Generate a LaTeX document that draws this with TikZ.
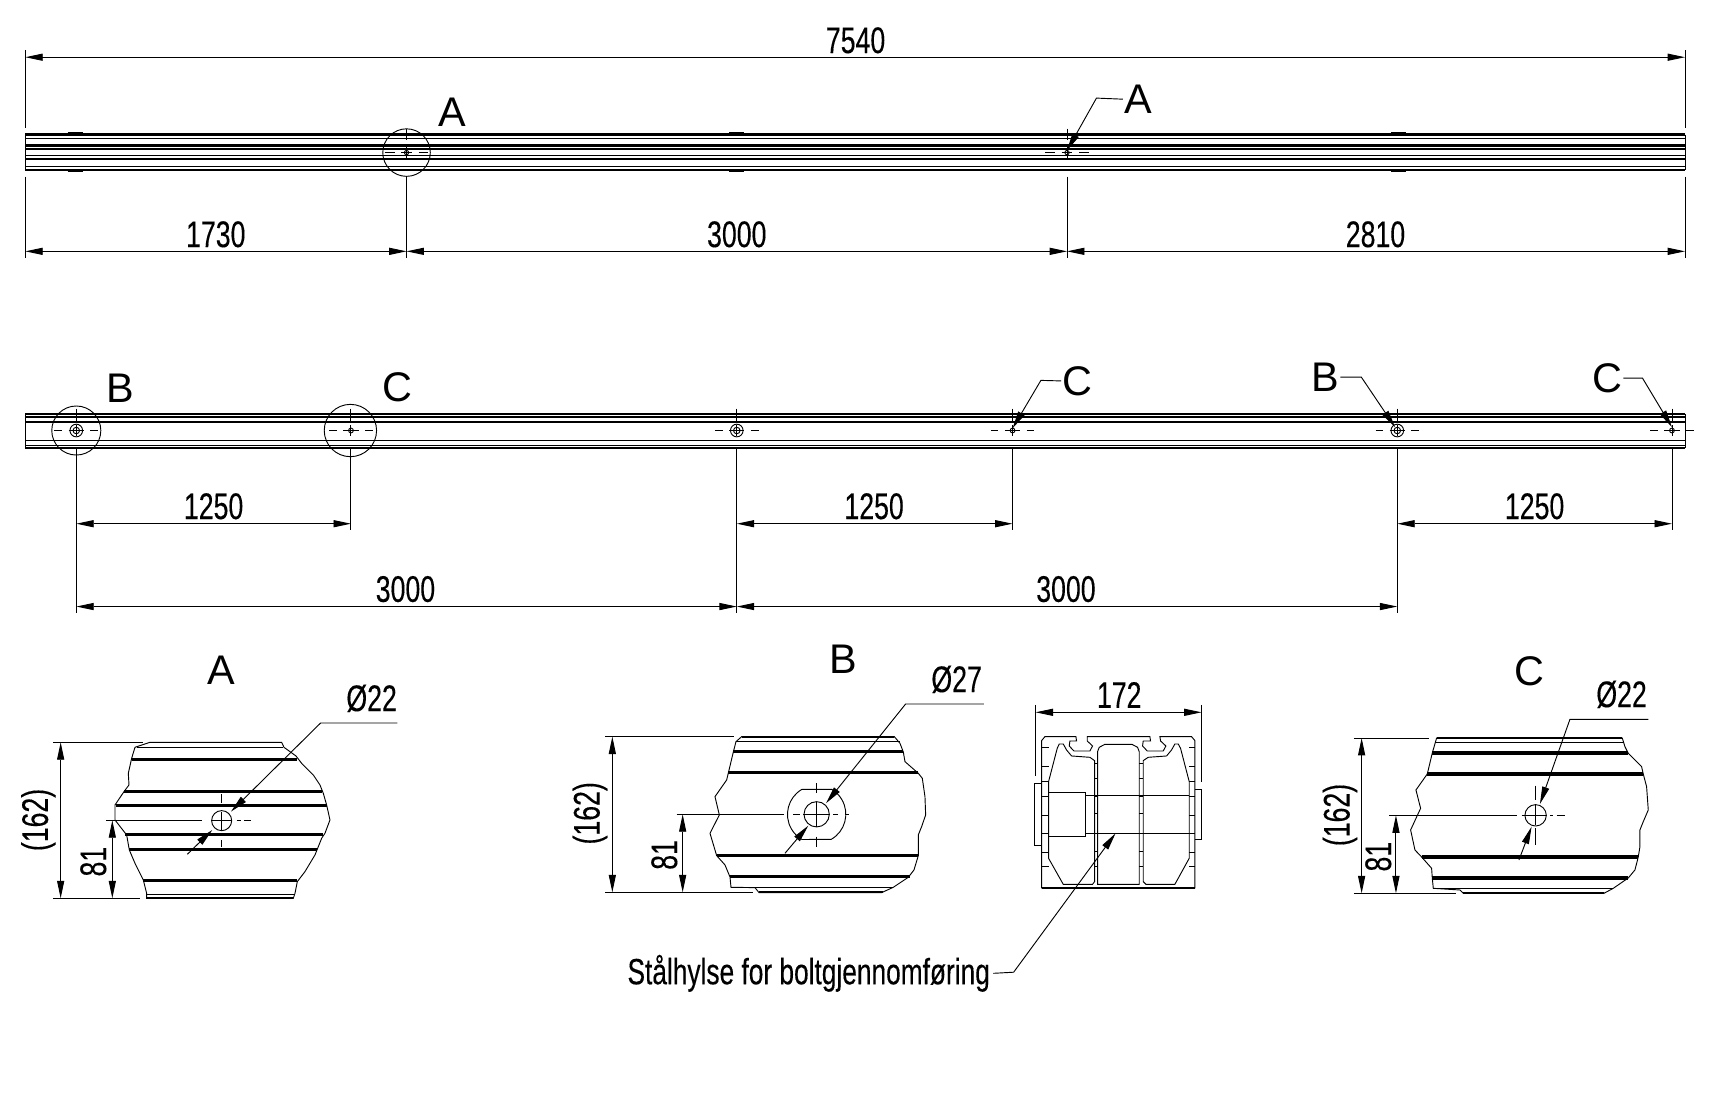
\documentclass[tikz,border=0pt]{standalone}
\usepackage{fontspec}
\setmainfont{Liberation Sans}
\newfontfamily\dimfont[FakeStretch=0.72,FakeBold=0.25]{Liberation Sans}
\usetikzlibrary{arrows.meta}
\tikzset{
  thinl/.style={line width=.85pt},
  thickl/.style={line width=2.8pt},
  dimline/.style={thinl,{Stealth[length=16pt,width=6.5pt,inset=0pt]}-{Stealth[length=16pt,width=6.5pt,inset=0pt]}},
  leaderl/.style={thinl,-{Stealth[length=16pt,width=6.5pt,inset=0pt]}},
  dimlabel/.style={font=\dimfont\fontsize{34}{34}\selectfont,inner sep=0pt},
  letterl/.style={font=\fontsize{38}{38}\selectfont,inner sep=0pt},
  zoomed/.style={x=.3058pt,y=-.3058pt}
}
\begin{document}
\begin{tikzpicture}[x=1pt,y=-1pt]
\useasboundingbox (0,0) rectangle (1568,1024);
% upper beam
\foreach \ly in {123.5,133.6,136.7,145.9,156}
  \draw[line width=2.2pt] (23.2,\ly) -- (1546,\ly);
\foreach \ly in {127,142.5,152.6}
  \draw[thinl] (23.2,\ly) -- (1546,\ly);
\draw[thinl] (23.2,123.5) -- (23.2,156) (1546,123.5) -- (1546,156);
\foreach \mx in {69,676,1283} {
  \draw[line width=1.1pt] (\mx-7,122) -- (\mx+7,122);
  \draw[line width=1.1pt] (\mx-7,157.2) -- (\mx+7,157.2);
}
\draw[thinl] (373,140) circle[radius=21.8pt];
\node[letterl] (tagA) at (415,103) {A};
\foreach \hx in {373,979} {
  \draw[thinl] (\hx,140) circle[radius=2pt];
  \draw[thinl] (\hx-20,140) -- (\hx-11,140) (\hx-5,140) -- (\hx+5,140) (\hx+11,140) -- (\hx+20,140);
  \draw[thinl] (\hx,118) -- (\hx,128) (\hx,134) -- (\hx,146);
}
\node[letterl] (tagAb) at (1044,91) {A};
\coordinate (kneeA) at (1006,90);
\coordinate (tipA) at (979,138);
\draw[leaderl] (tagAb.west) ++(-1,0) -- (kneeA) -- (tipA);
% dimensions of the upper beam
\foreach \cname/\cx in {ua/23.2,ub/373,uc/979,ud/1546} {
  \coordinate (\cname) at (\cx,230.6);
  \draw[thinl] (\cx,162) -- (\cx,237);
}
\draw[thinl] (23.2,46) -- (23.2,117) (1546,46) -- (1546,117);
\coordinate (topl) at (23.2,52.5);
\coordinate (topr) at (1546,52.5);
\draw[dimline] (topl) -- (topr);
\draw[dimline] (ua) -- (ub);
\draw[dimline] (ub) -- (uc);
\draw[dimline] (uc) -- (ud);
\node[dimlabel] (total) at (785,37) {7540};
\node[dimlabel] (ula) at (198,215) {1730};
\node[dimlabel] (ulb) at (676,215) {3000};
\node[dimlabel] (ulc) at (1262,215) {2810};
% lower beam
\foreach \ly in {379.8,382.9,387.2,410.7}
  \draw[line width=2pt] (23.2,\ly) -- (1546,\ly);
\foreach \ly in {404.3,408.9}
  \draw[thinl] (23.2,\ly) -- (1546,\ly);
\draw[thinl] (23.2,379.8) -- (23.2,410.7) (1546,379.8) -- (1546,410.7);
\foreach \hx in {70,322,676,929,1282,1534} {
  \draw[thinl] (\hx-20,395) -- (\hx-13,395) (\hx-7,395) -- (\hx+7,395) (\hx+13,395) -- (\hx+20,395);
  \draw[thinl] (\hx,375) -- (\hx,388) (\hx,390) -- (\hx,400);
}
\foreach \hx in {70,676,1282} {
  \draw[thinl] (\hx,395) circle[radius=5.8pt];
  \draw[thinl] (\hx,395) circle[radius=3pt];
}
\foreach \hx in {322,929,1534}
  \draw[thinl] (\hx,395) circle[radius=2.2pt];
\draw[thinl] (70,395) circle[radius=22.5pt];
\draw[thinl] (321.5,395) circle[radius=24pt];
\node[letterl] (tagB) at (110,356) {B};
\node[letterl] (tagC) at (365,355.5) {C};
\node[letterl] (tagCb) at (988.5,349.5) {C};
\node[letterl] (tagBb) at (1216,346) {B};
\node[letterl] (tagCc) at (1474.5,347) {C};
\coordinate (kneeCb) at (955,349);
\coordinate (kneeBb) at (1249,346);
\coordinate (kneeCc) at (1507,347);
\coordinate (tipCb) at (929,393);
\coordinate (tipBb) at (1280,392);
\coordinate (tipCc) at (1534,392);
\draw[leaderl] (tagCb.west) ++(-1,0) -- (kneeCb) -- (tipCb);
\draw[leaderl] (tagBb.east) ++(1,0) -- (kneeBb) -- (tipBb);
\draw[leaderl] (tagCc.east) ++(1,0) -- (kneeCc) -- (tipCc);
% dimensions of the lower beam
\foreach \cx/\cy in {70/562,322/486,676/562,929/486,1282/562,1534/486}
  \draw[thinl] (\cx,412) -- (\cx,\cy);
\foreach \cname/\cx in {la/70,lb/322,lc/676,ld/929,le/1282,lf/1534} {
  \coordinate (\cname) at (\cx,480.5);
  \coordinate (\cname w) at (\cx,556.5);
}
\draw[dimline] (la) -- (lb);
\draw[dimline] (lc) -- (ld);
\draw[dimline] (le) -- (lf);
\draw[dimline] (law) -- (lcw);
\draw[dimline] (lcw) -- (lew);
\node[dimlabel] (lla) at (196,464.5) {1250};
\node[dimlabel] (llb) at (802,464.5) {1250};
\node[dimlabel] (llc) at (1408,464.5) {1250};
\node[dimlabel] (lld) at (372,540.5) {3000};
\node[dimlabel] (lle) at (978,540.5) {3000};
% detail A
\begin{scope}[shift={(0,578)},zoomed]
\draw[thinl] (450,337) -- (845,337) -- (852,352) -- (888,378) -- (905,400) -- (940,435) -- (960,465) -- (970,490) -- (980,525) -- (990,570) -- (975,610) -- (965,625) -- (945,675) -- (915,725) -- (892,755) -- (885,790) -- (880,805) -- (440,805) -- (440,790) -- (430,750) -- (405,700) -- (388,660) -- (380,615) -- (345,570) -- (345,525) -- (372,485) -- (387,465) -- (385,430) -- (395,385) -- (405,352) -- cycle;
\draw[thinl] (410,352) -- (850,352) (440,793) -- (885,793);
\foreach \ly/\la/\lb in {390/395/890,485/372/965,527/347/980,614/375/968,659/388/950,752/430/890}
  \draw[thickl] (\la,\ly) -- (\lb,\ly);
\draw[line width=1.8pt] (442,803) -- (880,803);
\draw[thinl] (665,572) circle[radius=9.2pt];
\draw[thinl] (318,571) -- (605,571) (635,571) -- (695,571) (710,571) -- (722,571) (732,571) -- (752,571);
\draw[thinl] (665,492) -- (665,520) (665,545) -- (665,600) (665,630) -- (665,652);
\node[letterl] (detA) at (665,122) {A};
\node[dimlabel] (diaA) at (1115,205) {Ø22};
\coordinate (diaAa) at (1192,279);
\coordinate (diaAb) at (962,279);
\coordinate (diaAc) at (693,545);
\coordinate (diaAd) at (562,673);
\coordinate (diaAe) at (637,600);
\draw[leaderl] (diaAa) -- (diaAb) -- (diaAc);
\draw[leaderl] (diaAd) -- (diaAe);
\draw[thinl] (160,337) -- (430,337) (160,805) -- (420,805);
\coordinate (hA1) at (182,337);
\coordinate (hA2) at (182,805);
\coordinate (hA3) at (337,571);
\coordinate (hA4) at (337,805);
\draw[dimline] (hA1) -- (hA2);
\draw[dimline] (hA3) -- (hA4);
\node[dimlabel,rotate=90] (hAl) at (115,570) {(162)};
\node[dimlabel,rotate=90] (hAm) at (280,695) {81};
\end{scope}
% detail B
\begin{scope}[shift={(513.8,578)},zoomed]
\draw[thinl] (545,320) -- (1003,320) -- (1020,340) -- (1030,366) -- (1035,395) -- (1075,430) -- (1087,445) -- (1095,500) -- (1097,555) -- (1085,590) -- (1075,615) -- (1075,677) -- (1062,720) -- (1045,742) -- (1000,772) -- (965,788) -- (597,788) -- (585,773) -- (513,772) -- (510,741) -- (495,705) -- (470,677) -- (450,610) -- (478,555) -- (465,500) -- (500,450) -- (505,429) -- (520,366) -- (528,335) -- cycle;
\draw[thinl] (528,335) -- (1020,335) (513,772) -- (1000,772);
\foreach \ly/\la/\lb in {366/520/1030,429/505/1075,677/470/1075,741/510/1050}
  \draw[thickl] (\la,\ly) -- (\lb,\ly);
\draw[line width=2pt] (545,320) -- (1003,320) (597,787) -- (970,787);
\draw[thinl] (770,553) circle[radius=11.6pt];
\draw[thinl] (814,478) -- (726,478) arc[start angle=120,end angle=240,radius=26.6pt] -- (814,628) arc[start angle=-60,end angle=60,radius=26.6pt];
\draw[thinl] (350,553) -- (672,553) (700,553) -- (720,553) (730,553) -- (810,553) (820,553) -- (835,553) (855,553) -- (868,553);
\draw[thinl] (770,460) -- (770,490) (770,515) -- (770,590) (770,620) -- (770,650);
\node[letterl] (detB) at (850,88) {B};
\node[dimlabel] (diaB) at (1190,148) {Ø27};
\coordinate (diaBa) at (1272,222);
\coordinate (diaBb) at (1037,222);
\coordinate (diaBc) at (798,520);
\coordinate (diaBd) at (675,670);
\coordinate (diaBe) at (745,587);
\draw[leaderl] (diaBa) -- (diaBb) -- (diaBc);
\draw[leaderl] (diaBd) -- (diaBe);
\draw[thinl] (135,320) -- (522,320) (135,787) -- (578,787);
\coordinate (hB1) at (157,320);
\coordinate (hB2) at (157,787);
\coordinate (hB3) at (368,553);
\coordinate (hB4) at (368,787);
\draw[dimline] (hB1) -- (hB2);
\draw[dimline] (hB3) -- (hB4);
\node[dimlabel,rotate=90] (hBl) at (90,550) {(162)};
\node[dimlabel,rotate=90] (hBm) at (313,675) {81};
\end{scope}
% section
\begin{scope}[shift={(917.4,614.7)},zoomed]
\draw[thinl] (125,655) -- (125,212) -- (135,200) -- (228,200) -- (230,213) -- (210,213) -- (208,228) -- (222,243) -- (270,243) -- (278,228) -- (262,213) -- (262,200) -- (450,200) -- (452,213) -- (430,213) -- (428,228) -- (442,243) -- (490,243) -- (498,228) -- (482,213) -- (480,200) -- (575,200) -- (585,212) -- (585,655);
\draw[line width=1.6pt] (125,655) -- (585,655);
\draw[thinl] (146,335) -- (172,235) -- (178,222) -- (190,222) -- (200,240) -- (215,258) -- (270,262) -- (284,272) -- (284,635) -- (278,643) -- (190,643) -- (146,565) -- cycle;
\draw[thinl] (568,335) -- (542,235) -- (535,222) -- (525,222) -- (515,240) -- (500,258) -- (445,262) -- (430,272) -- (430,635) -- (438,643) -- (525,643) -- (568,565) -- cycle;
\draw[thinl] (293,643) -- (293,245) -- (298,232) -- (315,223) -- (396,223) -- (413,232) -- (418,245) -- (418,643) -- cycle;
\foreach \ry in {232,290,335,380,435,490,548,590} {
  \draw[thinl] (125,\ry) -- (146,\ry);
  \draw[thinl] (568,\ry) -- (585,\ry);
}
\foreach \ry in {280,325,380,430,490,545,590} {
  \draw[thinl] (284,\ry) -- (293,\ry);
  \draw[thinl] (418,\ry) -- (430,\ry);
}
\draw[thinl] (125,340) -- (105,340) -- (105,525) -- (125,525);
\draw[thinl] (585,357) -- (605,357) -- (605,508) -- (585,508);
\draw[thinl] (147,367) rectangle (257,499);
\draw[thinl] (257,377) -- (568,377) (257,490) -- (568,490);
\draw[thinl] (107,105) -- (107,318) (605,105) -- (605,335);
\coordinate (wS1) at (107,127);
\coordinate (wS2) at (605,127);
\draw[dimline] (wS1) -- (wS2);
\node[dimlabel] (wSl) at (358,75) {172};
\coordinate (tipS) at (347,490);
\end{scope}
\node[dimlabel,font=\dimfont\fontsize{33.5}{33.5}\selectfont] (sleeve) at (742,893) {Stålhylse for boltgjennomføring};
\coordinate (kneeS) at (930,892);
\draw[leaderl] (sleeve.east) ++(3,0) -- (kneeS) -- (tipS);
% detail C
\begin{scope}[shift={(1192.7,587.2)},zoomed]
\draw[thinl] (410,294) -- (967,294) -- (975,320) -- (985,340) -- (1025,380) -- (1030,402) -- (1040,440) -- (1045,510) -- (1030,545) -- (1020,570) -- (1020,620) -- (1015,651) -- (1005,690) -- (985,714) -- (940,745) -- (912,760) -- (490,760) -- (480,750) -- (400,745) -- (397,714) -- (395,685) -- (365,651) -- (345,630) -- (332,570) -- (362,505) -- (348,450) -- (382,402) -- (397,339) -- cycle;
\draw[thinl] (405,308) -- (972,308) (400,745) -- (940,745);
\foreach \ly/\la/\lb in {339/397/985,402/382/1030,651/365/1015,714/397/985}
  \draw[thickl] (\la,\ly) -- (\lb,\ly);
\draw[line width=2pt] (410,294) -- (967,294) (490,759) -- (912,759);
\draw[thinl] (707,526) circle[radius=9.8pt];
\draw[thinl] (268,526) -- (650,526) (665,526) -- (740,526) (750,526) -- (760,526) (770,526) -- (795,526);
\draw[thinl] (707,437) -- (707,480) (707,495) -- (707,555) (707,565) -- (707,615);
\node[letterl] (detC) at (688,95) {C};
\node[dimlabel] (diaC) at (965,163) {Ø22};
\coordinate (diaCa) at (1045,238);
\coordinate (diaCb) at (810,238);
\coordinate (diaCc) at (720,492);
\coordinate (diaCd) at (657,660);
\coordinate (diaCe) at (695,560);
\draw[leaderl] (diaCa) -- (diaCb) -- (diaCc);
\draw[leaderl] (diaCd) -- (diaCe);
\draw[thinl] (162,294) -- (388,294) (162,760) -- (468,760);
\coordinate (hC1) at (185,294);
\coordinate (hC2) at (185,760);
\coordinate (hC3) at (288,526);
\coordinate (hC4) at (288,760);
\draw[dimline] (hC1) -- (hC2);
\draw[dimline] (hC3) -- (hC4);
\node[dimlabel,rotate=90] (hCl) at (120,525) {(162)};
\node[dimlabel,rotate=90] (hCm) at (235,650) {81};
\end{scope}
\end{tikzpicture}
\end{document}
